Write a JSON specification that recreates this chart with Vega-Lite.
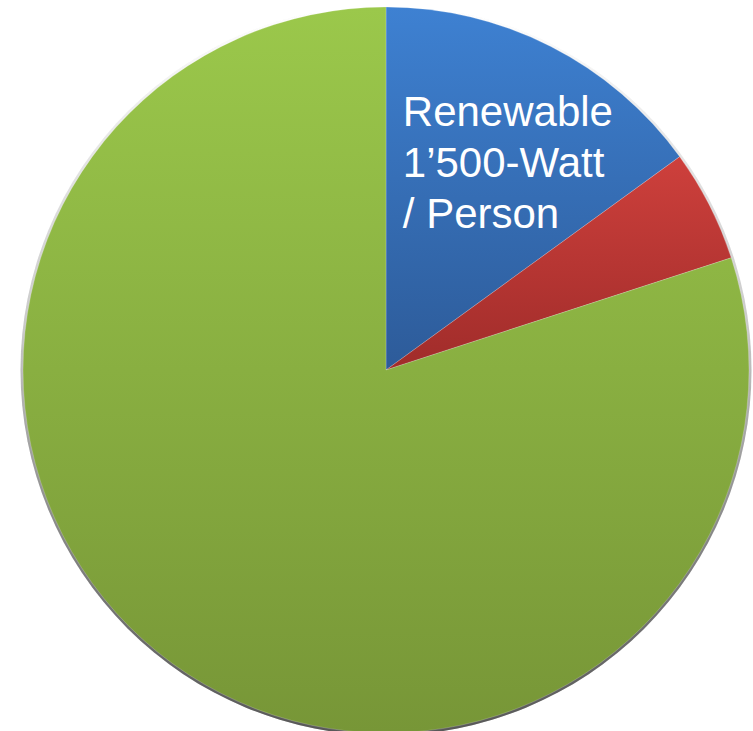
{
  "$schema": "https://vega.github.io/schema/vega-lite/v6.json",
  "width": 726,
  "height": 726,
  "autosize": {"type": "none"},
  "padding": {"left": 23, "top": 7, "right": 4, "bottom": 0},
  "background": "white",
  "config": {"view": {"stroke": null}},
  "data": {
    "values": [
      {"order": 1, "source": "Renewable", "share": 15, "label": ["Renewable", "1’500-Watt", "/ Person"]},
      {"order": 2, "source": "Other", "share": 5, "label": []},
      {"order": 3, "source": "Remaining", "share": 80, "label": []}
    ]
  },
  "layer": [
    {
      "mark": {
        "type": "arc", "theta": 0, "theta2": 6.2832, "radius": 365.5,
        "fill": {"gradient": "linear", "x1": 0, "y1": 0, "x2": 0, "y2": 1,
          "stops": [{"offset": 0, "color": "rgba(0,0,0,0)"}, {"offset": 0.45, "color": "rgba(0,0,0,0.08)"}, {"offset": 1, "color": "rgba(0,0,0,0.3)"}]}
      },
      "encoding": {}
    },
    {
      "mark": {"type": "arc", "radius": 363, "stroke": "#ffffff", "strokeWidth": 0.4, "strokeOpacity": 0.5},
      "encoding": {
        "theta": {"field": "share", "type": "quantitative", "stack": true},
        "detail": {"field": "source"},
        "order": {"field": "order", "type": "quantitative"},
        "fill": {
          "condition": [
            {
              "test": "datum.source === 'Renewable'",
              "value": {"gradient": "linear", "x1": 0, "y1": 0, "x2": 0, "y2": 1,
                "stops": [{"offset": 0, "color": "#3E81D2"}, {"offset": 1, "color": "#2D5B99"}]}
            },
            {
              "test": "datum.source === 'Other'",
              "value": {"gradient": "linear", "x1": 0, "y1": 0, "x2": 0, "y2": 1,
                "stops": [{"offset": 0, "color": "#CE403C"}, {"offset": 1, "color": "#A02C2A"}]}
            }
          ],
          "value": {"gradient": "linear", "x1": 0, "y1": 0, "x2": 0, "y2": 1,
            "stops": [{"offset": 0, "color": "#9BC84B"}, {"offset": 1, "color": "#779637"}]}
        }
      }
    },
    {
      "transform": [{"filter": "datum.source === 'Renewable'"}],
      "mark": {
        "type": "text",
        "radius": 200,
        "align": "left",
        "baseline": "alphabetic",
        "dx": -74,
        "dy": -66,
        "font": "Liberation Sans",
        "fontSize": 42,
        "lineHeight": 51,
        "color": "#ffffff"
      },
      "encoding": {
        "theta": {"field": "share", "type": "quantitative", "stack": true},
        "order": {"field": "order", "type": "quantitative"},
        "text": {"field": "label"}
      }
    }
  ]
}
